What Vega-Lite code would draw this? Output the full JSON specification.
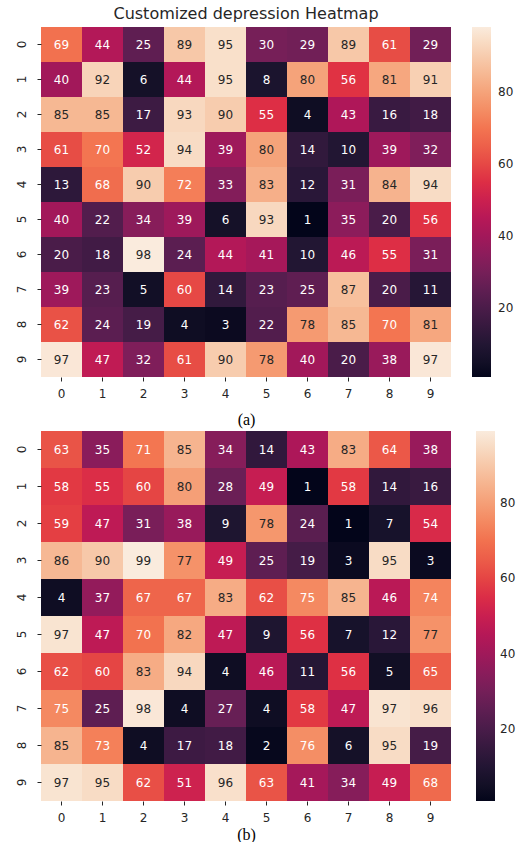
{
  "$schema": "https://vega.github.io/schema/vega-lite/v6.json",
  "background": "white",
  "padding": {"left": 15, "top": 6, "right": 5, "bottom": 0},
  "spacing": 4,
  "config": {
    "view": {"stroke": null},
    "font": "DejaVu Sans",
    "axis": {
      "domain": false,
      "tickColor": "#262626",
      "tickSize": 4,
      "labelFontSize": 12,
      "labelColor": "#262626",
      "labelFont": "DejaVu Sans",
      "grid": false
    },
    "legend": {
      "labelFont": "DejaVu Sans",
      "labelFontSize": 12,
      "labelColor": "#262626"
    }
  },
  "resolve": {"scale": {"color": "independent", "x": "independent", "y": "independent"}},
  "datasets": {
    "a": [
      {"r":0,"c":0,"v":69},{"r":0,"c":1,"v":44},{"r":0,"c":2,"v":25},{"r":0,"c":3,"v":89},{"r":0,"c":4,"v":95},{"r":0,"c":5,"v":30},{"r":0,"c":6,"v":29},{"r":0,"c":7,"v":89},{"r":0,"c":8,"v":61},{"r":0,"c":9,"v":29},
      {"r":1,"c":0,"v":40},{"r":1,"c":1,"v":92},{"r":1,"c":2,"v":6},{"r":1,"c":3,"v":44},{"r":1,"c":4,"v":95},{"r":1,"c":5,"v":8},{"r":1,"c":6,"v":80},{"r":1,"c":7,"v":56},{"r":1,"c":8,"v":81},{"r":1,"c":9,"v":91},
      {"r":2,"c":0,"v":85},{"r":2,"c":1,"v":85},{"r":2,"c":2,"v":17},{"r":2,"c":3,"v":93},{"r":2,"c":4,"v":90},{"r":2,"c":5,"v":55},{"r":2,"c":6,"v":4},{"r":2,"c":7,"v":43},{"r":2,"c":8,"v":16},{"r":2,"c":9,"v":18},
      {"r":3,"c":0,"v":61},{"r":3,"c":1,"v":70},{"r":3,"c":2,"v":52},{"r":3,"c":3,"v":94},{"r":3,"c":4,"v":39},{"r":3,"c":5,"v":80},{"r":3,"c":6,"v":14},{"r":3,"c":7,"v":10},{"r":3,"c":8,"v":39},{"r":3,"c":9,"v":32},
      {"r":4,"c":0,"v":13},{"r":4,"c":1,"v":68},{"r":4,"c":2,"v":90},{"r":4,"c":3,"v":72},{"r":4,"c":4,"v":33},{"r":4,"c":5,"v":83},{"r":4,"c":6,"v":12},{"r":4,"c":7,"v":31},{"r":4,"c":8,"v":84},{"r":4,"c":9,"v":94},
      {"r":5,"c":0,"v":40},{"r":5,"c":1,"v":22},{"r":5,"c":2,"v":34},{"r":5,"c":3,"v":39},{"r":5,"c":4,"v":6},{"r":5,"c":5,"v":93},{"r":5,"c":6,"v":1},{"r":5,"c":7,"v":35},{"r":5,"c":8,"v":20},{"r":5,"c":9,"v":56},
      {"r":6,"c":0,"v":20},{"r":6,"c":1,"v":18},{"r":6,"c":2,"v":98},{"r":6,"c":3,"v":24},{"r":6,"c":4,"v":44},{"r":6,"c":5,"v":41},{"r":6,"c":6,"v":10},{"r":6,"c":7,"v":46},{"r":6,"c":8,"v":55},{"r":6,"c":9,"v":31},
      {"r":7,"c":0,"v":39},{"r":7,"c":1,"v":23},{"r":7,"c":2,"v":5},{"r":7,"c":3,"v":60},{"r":7,"c":4,"v":14},{"r":7,"c":5,"v":23},{"r":7,"c":6,"v":25},{"r":7,"c":7,"v":87},{"r":7,"c":8,"v":20},{"r":7,"c":9,"v":11},
      {"r":8,"c":0,"v":62},{"r":8,"c":1,"v":24},{"r":8,"c":2,"v":19},{"r":8,"c":3,"v":4},{"r":8,"c":4,"v":3},{"r":8,"c":5,"v":22},{"r":8,"c":6,"v":78},{"r":8,"c":7,"v":85},{"r":8,"c":8,"v":70},{"r":8,"c":9,"v":81},
      {"r":9,"c":0,"v":97},{"r":9,"c":1,"v":47},{"r":9,"c":2,"v":32},{"r":9,"c":3,"v":61},{"r":9,"c":4,"v":90},{"r":9,"c":5,"v":78},{"r":9,"c":6,"v":40},{"r":9,"c":7,"v":20},{"r":9,"c":8,"v":38},{"r":9,"c":9,"v":97}
    ],
    "b": [
      {"r":0,"c":0,"v":63},{"r":0,"c":1,"v":35},{"r":0,"c":2,"v":71},{"r":0,"c":3,"v":85},{"r":0,"c":4,"v":34},{"r":0,"c":5,"v":14},{"r":0,"c":6,"v":43},{"r":0,"c":7,"v":83},{"r":0,"c":8,"v":64},{"r":0,"c":9,"v":38},
      {"r":1,"c":0,"v":58},{"r":1,"c":1,"v":55},{"r":1,"c":2,"v":60},{"r":1,"c":3,"v":80},{"r":1,"c":4,"v":28},{"r":1,"c":5,"v":49},{"r":1,"c":6,"v":1},{"r":1,"c":7,"v":58},{"r":1,"c":8,"v":14},{"r":1,"c":9,"v":16},
      {"r":2,"c":0,"v":59},{"r":2,"c":1,"v":47},{"r":2,"c":2,"v":31},{"r":2,"c":3,"v":38},{"r":2,"c":4,"v":9},{"r":2,"c":5,"v":78},{"r":2,"c":6,"v":24},{"r":2,"c":7,"v":1},{"r":2,"c":8,"v":7},{"r":2,"c":9,"v":54},
      {"r":3,"c":0,"v":86},{"r":3,"c":1,"v":90},{"r":3,"c":2,"v":99},{"r":3,"c":3,"v":77},{"r":3,"c":4,"v":49},{"r":3,"c":5,"v":25},{"r":3,"c":6,"v":19},{"r":3,"c":7,"v":3},{"r":3,"c":8,"v":95},{"r":3,"c":9,"v":3},
      {"r":4,"c":0,"v":4},{"r":4,"c":1,"v":37},{"r":4,"c":2,"v":67},{"r":4,"c":3,"v":67},{"r":4,"c":4,"v":83},{"r":4,"c":5,"v":62},{"r":4,"c":6,"v":75},{"r":4,"c":7,"v":85},{"r":4,"c":8,"v":46},{"r":4,"c":9,"v":74},
      {"r":5,"c":0,"v":97},{"r":5,"c":1,"v":47},{"r":5,"c":2,"v":70},{"r":5,"c":3,"v":82},{"r":5,"c":4,"v":47},{"r":5,"c":5,"v":9},{"r":5,"c":6,"v":56},{"r":5,"c":7,"v":7},{"r":5,"c":8,"v":12},{"r":5,"c":9,"v":77},
      {"r":6,"c":0,"v":62},{"r":6,"c":1,"v":60},{"r":6,"c":2,"v":83},{"r":6,"c":3,"v":94},{"r":6,"c":4,"v":4},{"r":6,"c":5,"v":46},{"r":6,"c":6,"v":11},{"r":6,"c":7,"v":56},{"r":6,"c":8,"v":5},{"r":6,"c":9,"v":65},
      {"r":7,"c":0,"v":75},{"r":7,"c":1,"v":25},{"r":7,"c":2,"v":98},{"r":7,"c":3,"v":4},{"r":7,"c":4,"v":27},{"r":7,"c":5,"v":4},{"r":7,"c":6,"v":58},{"r":7,"c":7,"v":47},{"r":7,"c":8,"v":97},{"r":7,"c":9,"v":96},
      {"r":8,"c":0,"v":85},{"r":8,"c":1,"v":73},{"r":8,"c":2,"v":4},{"r":8,"c":3,"v":17},{"r":8,"c":4,"v":18},{"r":8,"c":5,"v":2},{"r":8,"c":6,"v":76},{"r":8,"c":7,"v":6},{"r":8,"c":8,"v":95},{"r":8,"c":9,"v":19},
      {"r":9,"c":0,"v":97},{"r":9,"c":1,"v":95},{"r":9,"c":2,"v":62},{"r":9,"c":3,"v":51},{"r":9,"c":4,"v":96},{"r":9,"c":5,"v":63},{"r":9,"c":6,"v":41},{"r":9,"c":7,"v":34},{"r":9,"c":8,"v":49},{"r":9,"c":9,"v":68}
    ]
  },
  "vconcat": [
    {
      "title": {"text": "Customized depression Heatmap", "font": "DejaVu Sans", "fontSize": 16, "fontWeight": "normal", "color": "#262626", "anchor": "middle", "offset": 5},
      "width": 410,
      "height": 350,
      "data": {"name": "a"},
      "encoding": {
        "x": {"field": "c", "type": "ordinal", "scale": {"paddingInner": 0, "paddingOuter": 0},
              "axis": {"title": "(a)", "labelAngle": 0, "labelPadding": 7, "titleFont": "Liberation Serif", "titleFontSize": 16, "titleFontWeight": "normal", "titleColor": "#000000", "titlePadding": 12}},
        "y": {"field": "r", "type": "ordinal", "scale": {"paddingInner": 0, "paddingOuter": 0},
              "axis": {"title": null, "labelAngle": -90, "labelPadding": 9}}
      },
      "layer": [
        {
          "mark": {"type": "rect"},
          "encoding": {
            "color": {"field": "v", "type": "quantitative",
                      "scale": {"domain": [1, 98], "zero": false, "nice": false,
                                "range": ["#03051a", "#35193e", "#701f57", "#ad1759", "#e13342", "#f37651", "#f6b48f", "#faebdd"]},
                      "legend": {"title": null, "orient": "right", "values": [20, 40, 60, 80], "gradientLength": 350, "gradientThickness": 19, "gradientStrokeWidth": 0, "offset": 21, "labelOffset": 7}}
          }
        },
        {
          "mark": {"type": "text", "fontSize": 12, "font": "DejaVu Sans"},
          "encoding": {
            "text": {"field": "v", "type": "quantitative"},
            "color": {"condition": {"test": "datum.v >= 77", "value": "#262626"}, "value": "#ffffff"}
          }
        }
      ]
    },
    {
      "width": 410,
      "height": 370,
      "data": {"name": "b"},
      "encoding": {
        "x": {"field": "c", "type": "ordinal", "scale": {"paddingInner": 0, "paddingOuter": 0},
              "axis": {"title": "(b)", "labelAngle": 0, "labelPadding": 7, "titleFont": "Liberation Serif", "titleFontSize": 16, "titleFontWeight": "normal", "titleColor": "#000000", "titlePadding": 3}},
        "y": {"field": "r", "type": "ordinal", "scale": {"paddingInner": 0, "paddingOuter": 0},
              "axis": {"title": null, "labelAngle": -90, "labelPadding": 9}}
      },
      "layer": [
        {
          "mark": {"type": "rect"},
          "encoding": {
            "color": {"field": "v", "type": "quantitative",
                      "scale": {"domain": [1, 99], "zero": false, "nice": false,
                                "range": ["#03051a", "#35193e", "#701f57", "#ad1759", "#e13342", "#f37651", "#f6b48f", "#faebdd"]},
                      "legend": {"title": null, "orient": "right", "values": [20, 40, 60, 80], "gradientLength": 370, "gradientThickness": 19, "gradientStrokeWidth": 0, "offset": 25, "labelOffset": 5}}
          }
        },
        {
          "mark": {"type": "text", "fontSize": 12, "font": "DejaVu Sans"},
          "encoding": {
            "text": {"field": "v", "type": "quantitative"},
            "color": {"condition": {"test": "datum.v >= 77", "value": "#262626"}, "value": "#ffffff"}
          }
        }
      ]
    }
  ]
}
